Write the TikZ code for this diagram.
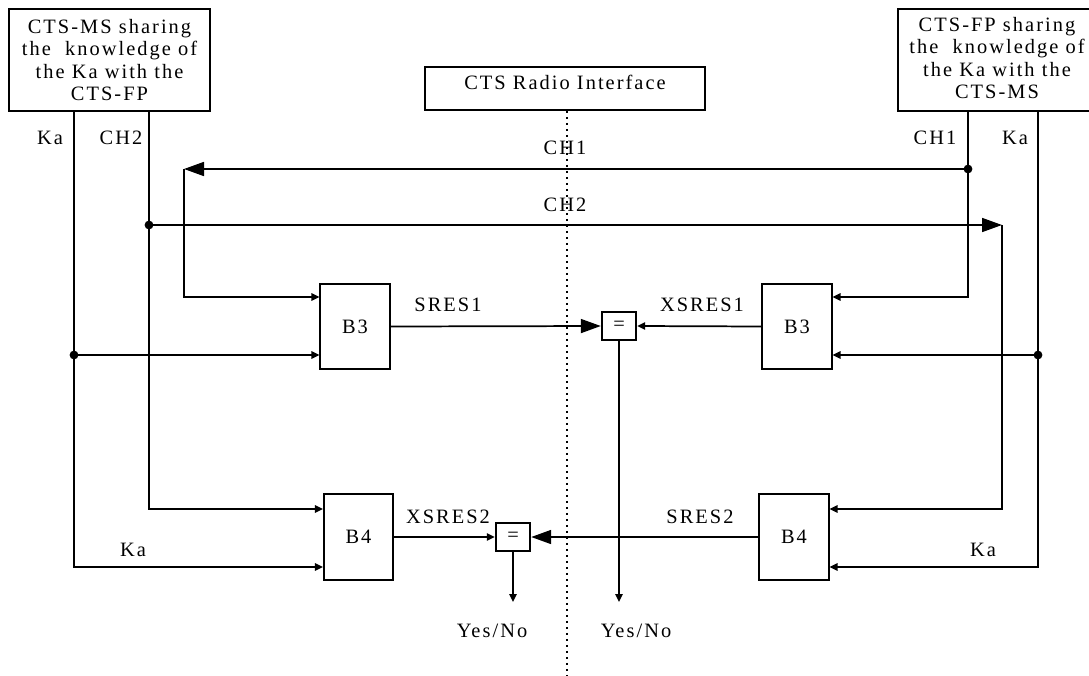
\documentclass[tikz,border=0pt]{standalone}
\usepackage{fontspec}
\setmainfont{Liberation Serif}[LetterSpace=10]
\usetikzlibrary{arrows.meta}
\begin{document}
\begin{tikzpicture}[x=0.75pt,y=-0.75pt,line width=1.3pt,
  every node/.style={font=\fontsize{15.3}{16.9}\selectfont,inner sep=0pt},
  topbox/.style={draw,line width=1.3pt,align=center,minimum height=76.5pt},
  blk/.style={draw,line width=1.3pt,minimum width=52pt,minimum height=64pt},
  eqbox/.style={draw,line width=1.3pt,minimum width=26pt,minimum height=21pt},
  big/.style={-{Triangle[length=15pt,width=10.5pt]}},
  small/.style={-{Triangle[length=6pt,width=5.5pt]}},
  dotline/.style={line width=1.5pt,dash pattern=on 1.5pt off 3pt}]
\useasboundingbox (0,0) rectangle (1089,675);

% top boxes
\node[topbox,minimum width=150.75pt] (lb) at (109.5,60)
  {CTS-MS sharing\\the~ knowledge of\\the Ka with the\\CTS-FP};
\node[topbox,minimum width=145.5pt] (rb) at (995,60) {};
\node[align=center] (rbt) at (997,58)
  {CTS-FP sharing\\the~ knowledge of\\the Ka with the\\CTS-MS};
\node[draw,line width=1.3pt,minimum width=210pt,minimum height=32.25pt] (radio) at (565,88.5) {};
\node (radiot) at (565,82) {CTS Radio Interface};

% dotted interface line
\coordinate (dotend) at (567,675);
\draw[dotline] (radio.south -| dotend) -- (dotend);

% blocks
\node[blk] (b3l) at (355,326.5) {B3};
\node[blk] (b3r) at (797,326.5) {B3};
\node[blk] (b4l) at (358.5,537) {B4};
\node[blk] (b4r) at (794,537) {B4};
\node[eqbox] (eq1) at (619,326) {=};
\node[eqbox] (eq2) at (513,537) {=};

% coordinates
\coordinate (kaLtop) at (74,111);
\coordinate (kaLdot) at (74,355);
\coordinate (kaLbot) at (74,567);
\coordinate (ch2Ltop) at (149,111);
\coordinate (ch2Ldot) at (149,225);
\coordinate (ch2Lbot) at (149,509);
\coordinate (ch1Lc) at (184,169);
\coordinate (ch1Lb) at (184,297);
\coordinate (ch1Rtop) at (968,111);
\coordinate (ch1Rdot) at (968,169);
\coordinate (ch1Rbot) at (968,297);
\coordinate (kaRtop) at (1038,111);
\coordinate (kaRdot) at (1038,355);
\coordinate (kaRbot) at (1038,567);
\coordinate (ch2Rc) at (1002,225);
\coordinate (ch2Rbot) at (1002,509);
\coordinate (ynlev) at (0,602);

% connectors
\draw[small] (kaLtop) -- (kaLbot) -- (kaLbot -| b4l.west);
\draw[small] (kaLdot) -- (kaLdot -| b3l.west);
\draw[small] (ch2Ltop) -- (ch2Lbot) -- (ch2Lbot -| b4l.west);
\draw[big] (ch2Ldot) -- (ch2Rc);
\draw[small] (ch2Rc) -- (ch2Rbot) -- (ch2Rbot -| b4r.east);
\draw[big] (ch1Rdot) -- (ch1Lc);
\draw[small] (ch1Lc) -- (ch1Lb) -- (ch1Lb -| b3l.west);
\draw[small] (ch1Rtop) -- (ch1Rbot) -- (ch1Rbot -| b3r.east);
\draw[small] (kaRtop) -- (kaRbot) -- (kaRbot -| b4r.east);
\draw[small] (kaRdot) -- (kaRdot -| b3r.east);
\draw[big] (b3l.east) -- (eq1.west);
\draw[small] (b3r.west) -- (eq1.east);
\draw[small] (eq1.south) -- (eq1.south |- ynlev);
\draw[small] (b4l.east) -- (eq2.west);
\draw[big] (b4r.west) -- (eq2.east);
\draw[small] (eq2.south) -- (eq2.south |- ynlev);

% dots
\foreach \p in {kaLdot,ch2Ldot,ch1Rdot,kaRdot} \fill (\p) circle (3.3pt);

% labels
\node (lKa1) at (50,138) {Ka};
\node (lCH2a) at (121,138) {CH2};
\node (lCH1a) at (935,138) {CH1};
\node (lKa2) at (1015,138) {Ka};
\node (lCH1m) at (565,148) {CH1};
\node (lCH2m) at (565,205) {CH2};
\node (lSRES1) at (448,305) {SRES1};
\node (lXSRES1) at (702,305) {XSRES1};
\node (lXSRES2) at (448,517) {XSRES2};
\node (lSRES2) at (700,517) {SRES2};
\node (lKa3) at (133,550) {Ka};
\node (lKa4) at (983,550) {Ka};
\node (yn1) at (636,631) {Yes/No};
\node (yn2) at (492,631) {Yes/No};
\end{tikzpicture}
\end{document}
